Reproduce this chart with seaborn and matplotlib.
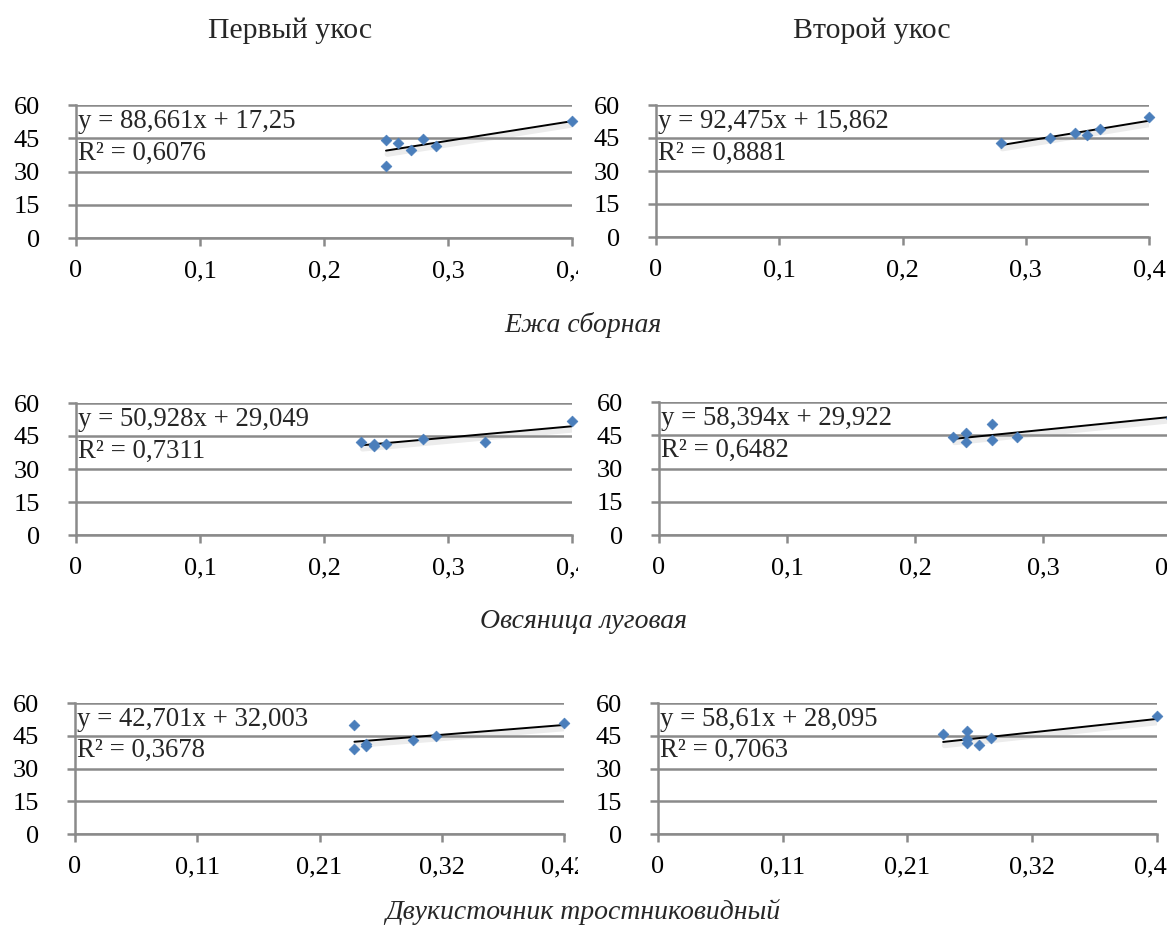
import numpy as np
import matplotlib
matplotlib.use('Agg')
import matplotlib.pyplot as plt
import matplotlib.patheffects as pe
from matplotlib.transforms import Bbox
import seaborn as sns

# ---- data ----
col_titles = ['Первый укос', 'Второй укос']
row_titles = ['Ежа сборная', 'Овсяница луговая', 'Двукисточник тростниковидный']

# Ежа сборная
x_ez1 = [0.25, 0.25, 0.26, 0.27, 0.28, 0.29, 0.40]
y_ez1 = [44.4, 32.4, 42.9, 39.5, 44.5, 41.4, 52.7]
x_ez2 = [0.28, 0.32, 0.34, 0.35, 0.36, 0.40]
y_ez2 = [42.6, 45.1, 47.4, 46.4, 49.0, 54.4]
# Овсяница луговая
x_ov1 = [0.23, 0.24, 0.24, 0.25, 0.28, 0.33, 0.40]
y_ov1 = [42.4, 41.5, 40.5, 41.3, 43.6, 42.1, 51.7]
x_ov2 = [0.23, 0.24, 0.24, 0.26, 0.26, 0.28, 0.40]
y_ov2 = [44.4, 45.9, 41.9, 49.9, 42.9, 44.1, 53.0]
# Двукисточник тростниковидный
x_dv1 = [0.24, 0.24, 0.25, 0.25, 0.29, 0.31, 0.42]
y_dv1 = [50.1, 38.8, 41.4, 40.2, 42.9, 44.9, 50.9]
x_dv2 = [0.24, 0.26, 0.26, 0.26, 0.27, 0.28, 0.42]
y_dv2 = [45.6, 47.2, 43.5, 41.9, 40.8, 43.8, 54.1]

slopes = [88.661, 92.475, 50.928, 58.394, 42.701, 58.61]
intercepts = [17.25, 15.862, 29.049, 29.922, 32.003, 28.095]
eq_labels = ['y = 88,661x + 17,25', 'y = 92,475x + 15,862',
             'y = 50,928x + 29,049', 'y = 58,394x + 29,922',
             'y = 42,701x + 32,003', 'y = 58,61x + 28,095']
r2_labels = ['R² = 0,6076', 'R² = 0,8881', 'R² = 0,7311',
             'R² = 0,6482', 'R² = 0,3678', 'R² = 0,7063']

y_ticks = [0, 15, 30, 45, 60]
x_ticks_a = [0, 0.1, 0.2, 0.3, 0.4]
x_labels_a = ['0', '0,1', '0,2', '0,3', '0,4']
x_ticks_b = [0, 0.105, 0.21, 0.315, 0.42]
x_labels_b = ['0', '0,11', '0,21', '0,32', '0,42']

xs = [x_ez1, x_ez2, x_ov1, x_ov2, x_dv1, x_dv2]
ys = [y_ez1, y_ez2, y_ov1, y_ov2, y_dv1, y_dv2]

sns.set_theme(style='white')
plt.rcParams['font.family'] = ['Liberation Serif', 'DejaVu Serif']

GRID = '#8a8a8a'
BLUE = '#4a7ebb'

W, H = 1167, 938
fig = plt.figure(figsize=(W / 100, H / 100), dpi=100, facecolor='white')

# axes boxes in pixels: left, right, top(60), bottom(0)
boxes = [(76, 572, 105, 238), (656, 1149, 105, 237),
         (76, 572, 403, 535), (659, 1171, 402, 535),
         (75, 564, 703, 834), (658, 1157, 703, 834)]

axes = []
for i, (l, r, t, b) in enumerate(boxes):
    ax = fig.add_axes([l / W, 1 - b / H, (r - l) / W, (b - t) / H])
    axes.append(ax)
    x = np.array(xs[i])
    y = np.array(ys[i])
    row3 = i >= 4

    ax.set_ylim(0, 60)
    ax.set_yticks(y_ticks)
    ax.set_yticklabels([str(v) for v in y_ticks])
    if row3:
        ax.set_xlim(0, 0.42)
        ax.set_xticks(x_ticks_b)
        ax.set_xticklabels(x_labels_b)
    else:
        ax.set_xlim(0, 0.4)
        ax.set_xticks(x_ticks_a)
        ax.set_xticklabels(x_labels_a)

    ax.grid(axis='y', color=GRID, linewidth=1.8)
    ax.grid(axis='x', visible=False)
    ax.set_axisbelow(True)
    for s in ['top', 'right']:
        ax.spines[s].set_visible(False)
    for s in ['left', 'bottom']:
        ax.spines[s].set_color(GRID)
        ax.spines[s].set_linewidth(1.8)
    ax.tick_params(axis='y', direction='out', length=6, width=1.8, color=GRID,
                   pad=20, labelsize=19, labelcolor='black', left=True)
    ax.tick_params(axis='x', direction='out', length=6, width=1.8, color=GRID,
                   pad=10, labelsize=19, labelcolor='black', bottom=True)

    # trend line from the equation over the data range
    tx = np.array([x.min(), x.max()])
    ty = slopes[i] * tx + intercepts[i]
    sns.lineplot(x=tx, y=ty, ax=ax, color='black', linewidth=1.4,
                 path_effects=[pe.SimpleLineShadow(offset=(1.0, -2.5), shadow_color='#a0a0a0',
                                                   alpha=0.2, linewidth=4),
                               pe.Normal()])
    sns.scatterplot(x=x, y=y, ax=ax, marker='D', s=30, color=BLUE,
                    edgecolor=BLUE, linewidth=0.5, clip_on=False, zorder=4)

    ax.text(0.004, 0.875, eq_labels[i], transform=ax.transAxes, fontsize=19.3,
            va='center', ha='left')
    ax.text(0.004, 0.635, r2_labels[i], transform=ax.transAxes, fontsize=19.3,
            va='center', ha='left')
    ax.set_xlabel('')
    ax.set_ylabel('')

# column titles
fig.text(290 / W, 1 - 31 / H, col_titles[0], ha='center', va='center', fontsize=21.5)
fig.text(872 / W, 1 - 31 / H, col_titles[1], ha='center', va='center', fontsize=21.5)
# row captions
for yy, name in zip([325, 622, 912], row_titles):
    fig.text(583 / W, 1 - yy / H, name, ha='center', va='center', fontsize=20,
             style='italic')

# left-hand pictures are cropped at about x = 578 px
fig.canvas.draw()
clip = Bbox.from_extents(0, 0, 578, H)
for ax in axes[0::2]:
    for lab in ax.get_xticklabels():
        lab.set_clip_box(clip)
        lab.set_clip_on(True)

fig.savefig('out.png', dpi=100, facecolor='white')
